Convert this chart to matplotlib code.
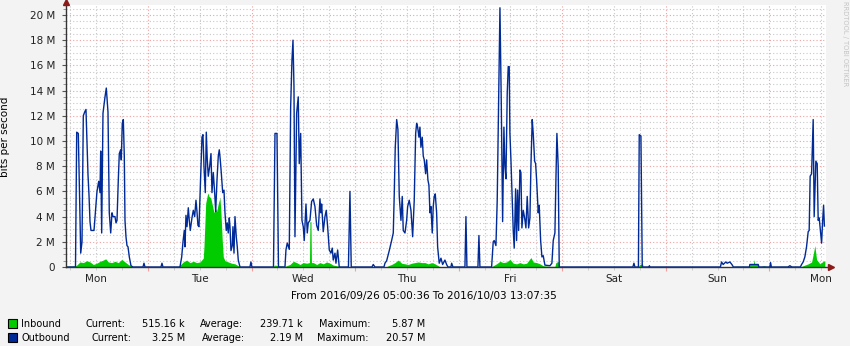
import numpy as np
import matplotlib
matplotlib.use("Agg")
import matplotlib.pyplot as plt
from matplotlib.patches import Rectangle

# hours after 2016/09/26 05:00:36, values in Mbit/s
out_hours = [0, 2.2, 2.48, 2.85, 3.41, 3.71, 4.01, 4.33, 4.63, 5.10, 5.33, 5.56, 5.79, 6.49, 6.95, 7.18,
             7.58, 7.88, 8.04, 8.27, 8.57, 9.04, 9.34, 9.73, 10.03, 10.36, 10.66, 10.89, 11.35, 11.59,
             11.82, 12.12, 12.35, 12.67, 12.81, 13.04, 13.28, 13.51, 13.67, 13.90, 14.13, 14.37, 14.67,
             15.06, 15.52, 17.84, 18.07, 18.30, 22.01, 22.24, 22.47,
             26.41, 26.81, 27.11, 27.41, 27.57, 27.80, 28.04, 28.34, 28.57, 28.80, 29.19, 29.50, 29.82,
             30.12, 30.35, 30.58, 30.82, 31.21, 31.51, 31.74, 31.97, 32.28, 32.51, 32.74, 32.97, 33.30,
             33.60, 33.83, 34.13, 34.45, 34.69, 34.99, 35.29, 35.52, 35.75, 35.98, 36.31, 36.61, 36.84,
             37.14, 37.37, 37.60, 37.84, 38.00, 38.23, 38.53, 38.69, 38.93, 39.16, 39.46, 39.69, 39.92,
             40.32, 42.63, 42.86, 43.09,
             48.08, 48.43, 48.89, 49.24, 50.74, 50.97, 51.27, 51.74, 52.06, 52.36, 52.60, 52.83, 53.06,
             53.45, 53.82, 54.05, 54.38, 54.68, 54.98, 55.21, 55.61, 55.91, 56.14, 56.53, 56.92, 57.30,
             57.69, 58.09, 58.46, 58.85, 59.08, 59.24, 59.61, 60.01, 60.31, 60.63, 61.01, 61.40, 61.70,
             61.93, 62.33, 62.56, 62.95, 63.32, 65.45, 65.80, 66.10, 70.90, 71.20, 71.59,
             73.68, 73.91, 74.31, 74.91, 75.46, 75.84, 76.07, 76.30, 76.63, 76.92, 77.23, 77.62, 77.92,
             78.15, 78.55, 78.94, 79.17, 79.54, 79.94, 80.33, 80.70, 81.03, 81.26, 81.49, 81.79, 82.02,
             82.25, 82.55, 82.79, 83.02, 83.34, 83.57, 83.87, 84.10, 84.34, 84.57, 84.87, 85.10, 85.33,
             85.57, 85.89, 86.12, 86.49, 86.89, 87.28, 87.81, 88.20, 88.51, 89.20, 89.37, 89.67,
             92.45, 92.68, 92.91, 95.46, 95.69, 95.92,
             98.63, 99.00, 99.23, 99.63, 99.93, 100.26, 100.56, 100.86, 101.18, 101.48, 101.71, 101.95,
             102.25, 102.48, 102.71, 102.87, 103.11, 103.41, 103.64, 103.87, 104.19, 104.42, 104.65,
             104.89, 105.19, 105.42, 105.65, 105.96, 106.28, 106.58, 106.88, 107.21, 107.51, 107.74,
             108.04, 108.27, 108.60, 108.83, 109.06, 109.43, 109.66, 109.99, 110.29, 110.59, 110.98,
             112.14, 112.60, 112.91, 113.30, 113.53, 113.76, 114.06, 114.30,
             131.37, 131.61, 131.84, 132.65, 132.84, 133.23, 133.54, 135.08, 135.20, 135.31,
             151.65, 151.92, 152.29, 152.91, 153.21, 153.85, 154.31, 154.66, 158.37, 158.48, 160.41,
             160.57, 163.12, 163.27, 163.46, 167.29, 167.75, 168.21,
             170.18, 170.46, 170.83, 171.22, 171.61, 171.99, 172.22, 172.45, 172.78, 173.15, 173.38,
             173.77, 174.08, 174.31, 174.54, 174.87, 175.10, 175.33, 175.56, 175.75]
out_mbits = [0, 0, 10.7, 10.6, 1.1, 2.0, 12.0, 12.3, 12.5, 7.3, 5.7, 3.6, 2.9, 2.9, 4.9, 6.0,
             6.8, 5.9, 9.2, 2.7, 12.2, 13.5, 14.2, 12.3, 4.3, 2.7, 4.3, 4.0, 4.0, 3.5,
             3.7, 6.9, 9.0, 9.3, 8.5, 11.4, 11.7, 8.8, 3.7, 2.4, 1.7, 1.6, 0.8,
             0.1, 0, 0, 0.3, 0, 0, 0.3, 0,
             0, 0.8, 2.0, 2.9, 1.6, 4.1, 3.2, 4.7, 3.7, 2.9, 3.9, 4.5, 4.0,
             5.3, 4.4, 3.3, 3.2, 7.2, 10.3, 10.5, 8.0, 5.9, 10.7, 8.5, 7.2, 8.0,
             9.0, 5.9, 7.5, 5.9, 4.4, 6.9, 8.8, 9.3, 8.5, 7.5, 5.9, 6.1, 4.3,
             2.9, 3.5, 2.7, 3.9, 3.2, 1.3, 1.7, 3.2, 1.1, 4.0, 2.4, 1.6, 0.55,
             0, 0, 0.4, 0,
             0, 10.6, 10.6, 0, 0, 1.35, 1.9, 1.4, 12.7, 16.4, 18.0, 14.3, 2.4,
             12.2, 13.5, 8.2, 10.6, 3.7, 3.2, 2.1, 5.0, 2.7, 3.5, 3.7, 5.2, 5.4,
             4.8, 3.3, 2.9, 5.4, 4.3, 5.0, 2.8, 4.0, 4.5, 3.2, 1.35, 1.1, 1.5,
             0.55, 1.1, 0.3, 1.35, 0, 0, 6.0, 0, 0, 0.2, 0,
             0, 0.3, 0.5, 1.3, 2.1, 2.7, 5.8, 9.5, 11.7, 10.9, 5.6, 3.7, 5.6,
             2.9, 2.7, 3.7, 4.8, 5.3, 4.5, 2.4, 5.3, 10.6, 11.4, 11.1, 10.3, 11.1,
             9.5, 10.3, 8.8, 8.5, 7.4, 8.5, 6.9, 6.5, 4.3, 4.8, 2.7, 4.8, 5.6,
             5.8, 4.3, 1.6, 0.3, 0.7, 0.2, 0.55, 0.2, 0, 0, 0.3, 0,
             0, 4.0, 0, 0, 2.5, 0,
             0, 2.0, 2.1, 1.7, 5.3, 13.3, 20.57, 13.3, 3.6, 11.1, 8.0, 7.0,
             13.8, 15.9, 15.9, 10.6, 8.5, 5.3, 2.9, 1.5, 6.2, 2.1, 6.1,
             2.9, 7.7, 7.5, 3.1, 4.5, 3.9, 3.1, 5.6, 3.1, 3.9, 8.0,
             11.7, 10.6, 8.4, 8.2, 6.9, 4.3, 4.9, 2.1, 0.8, 0.9, 0.15,
             0.1, 0.3, 2.1, 2.7, 6.9, 10.6, 8.0, 0,
             0, 0.3, 0, 0, 10.5, 10.4, 0, 0, 0.1, 0,
             0, 0.4, 0.2, 0.4, 0.3, 0.4, 0.2, 0, 0, 0.2, 0.2,
             0, 0, 0.35, 0, 0, 0.1, 0,
             0, 0.2, 0.4, 0.8, 1.6, 2.8, 2.9, 7.2, 7.4, 11.7, 4.0,
             8.4, 8.2, 3.7, 3.9, 2.7, 1.9, 3.6, 4.9, 3.25]

in_hours = [0, 2.09, 2.48, 3.24, 4.01, 4.80, 5.56, 6.33, 7.11, 7.88, 8.64, 9.20, 9.80, 10.59, 11.35,
            12.12, 12.91, 13.67, 14.43, 15.22, 15.76,
            25.95, 26.41, 27.18, 27.96, 28.73, 29.50, 30.28, 31.05, 31.81, 31.97, 32.37, 32.74, 32.97,
            33.13, 33.53, 33.99, 34.29, 34.59, 34.92, 35.29, 35.68, 35.91, 36.21, 36.45, 36.84, 37.60,
            38.39, 39.16, 39.92, 40.32,
            47.73, 48.43, 49.19, 50.74, 51.90, 52.67, 53.45, 54.22, 54.98, 55.77, 56.42, 56.53, 56.77,
            56.88, 57.30, 58.09, 58.85, 59.61, 60.40, 61.17, 61.93, 62.72, 63.49, 63.95,
            74.14, 74.68, 75.46, 76.23, 77.00, 77.78, 78.55, 79.31, 80.10, 80.86, 81.63, 82.42, 83.18,
            83.94, 84.73, 85.50, 86.26, 86.65,
            98.47, 99.00, 99.77, 100.56, 101.32, 102.10, 102.87, 103.64, 104.42, 105.19, 105.96,
            106.74, 107.74, 108.27, 109.06, 109.83, 110.59, 112.14, 113.30, 113.53, 114.06, 114.30,
            132.53, 132.98, 133.60, 133.79,
            154.54, 155.24, 156.17, 157.32, 158.37, 158.48, 159.29, 159.41, 159.60, 160.41, 160.57,
            161.73, 162.65, 163.12, 163.58, 165.43, 168.14,
            170.07, 170.83, 171.99, 172.78, 173.15, 173.54, 173.93, 174.70, 175.46, 175.86]
in_mbits = [0.05, 0.08, 0.15, 0.4, 0.35, 0.5, 0.4, 0.2, 0.3, 0.45, 0.55, 0.65, 0.4, 0.35, 0.45,
            0.35, 0.6, 0.4, 0.2, 0.05, 0,
            0, 0.15, 0.4, 0.55, 0.35, 0.45, 0.35, 0.4, 0.7, 1.6, 5.05, 5.7, 5.87,
            5.6, 5.5, 4.8, 4.3, 4.7, 4.4, 5.05, 5.5, 4.3, 2.1, 0.8, 0.5, 0.4,
            0.3, 0.25, 0.1, 0,
            0, 0.15, 0.1, 0.05, 0.2, 0.45, 0.35, 0.2, 0.35, 0.3, 0.35, 3.6, 3.6,
            0.35, 0.35, 0.2, 0.35, 0.25, 0.4, 0.3, 0.15, 0.1, 0.05, 0,
            0, 0.1, 0.2, 0.35, 0.55, 0.3, 0.25, 0.2, 0.3, 0.35, 0.4, 0.35, 0.35,
            0.25, 0.35, 0.25, 0.1, 0,
            0, 0.1, 0.25, 0.45, 0.35, 0.4, 0.6, 0.3, 0.25, 0.35, 0.25,
            0.3, 0.75, 0.4, 0.35, 0.25, 0.1, 0.05, 0.05, 0.35, 0.45, 0,
            0, 0.2, 0.25, 0,
            0, 0.05, 0.05, 0.05, 0, 0.2, 0.2, 0.6, 0.2, 0.2, 0,
            0.1, 0, 0.25, 0, 0.05, 0.05,
            0, 0.1, 0.25, 0.4, 1.0, 1.7, 0.6, 0.25, 0.45, 0.5]

day_names = ["Mon", "Tue", "Wed", "Thu", "Fri", "Sat", "Sun", "Mon"]
span_hours = 176.12
first_midnight = 18.99   # Tue 00:00
y_top = 20.79

legend_rows = [
    ("Inbound", "#00CC00", "515.16 k", "239.71 k", "5.87 M"),
    ("Outbound", "#002A97", "3.25 M", "2.19 M", "20.57 M"),
]

W, H = 850, 346
fig = plt.figure(figsize=(W / 100, H / 100), dpi=100, facecolor="#F3F3F3")
ax = fig.add_axes([66 / W, 79 / H, 760 / W, 262 / H])
ax.set_facecolor("white")

ax.fill_between(in_hours, in_mbits, 0, color="#00CC00", lw=0, zorder=3)
ax.plot(out_hours, out_mbits, color="#002A97", lw=1.0, zorder=4)

ax.set_xlim(0, span_hours)
ax.set_ylim(0, y_top)

# grid: red at days / every 2 M, grey at 6 h / 0.5 M
midnights = first_midnight + 24 * np.arange(7)
six_h = np.arange(first_midnight % 6, span_hours, 6)
six_h = [t for t in six_h if min(abs(t - m) for m in midnights) > 0.1]
noon0 = first_midnight - 12
six_labels = []
for t in six_h:
    k = (t - noon0) / 24
    if abs(k - round(k)) < 0.01:
        six_labels.append(day_names[int(round(k))])
    else:
        six_labels.append("")
ax.set_xticks(midnights)
ax.set_xticklabels([])
ax.set_xticks(six_h, labels=six_labels, minor=True)

ax.set_yticks(np.arange(0, 21, 2))
ax.set_yticklabels(["0"] + ["%d M" % v for v in range(2, 21, 2)])
ax.set_yticks(np.arange(0, y_top, 0.5), minor=True)

ax.grid(which="major", color="#F2A0A0", lw=0.8, ls=(0, (1, 2)), zorder=1)
ax.grid(which="minor", color="#C8C8C8", lw=0.8, ls=(0, (1, 2)), zorder=0)

ax.tick_params(axis="both", which="both", labelsize=7.5, colors="#222222")
ax.tick_params(axis="x", which="major", length=3, color="#F2A0A0", pad=2)
ax.tick_params(axis="x", which="minor", length=2, color="#C8C8C8", pad=3)
ax.tick_params(axis="y", which="major", length=3, color="#555555", pad=5)
ax.tick_params(axis="y", which="minor", length=2, color="#888888")

for s in ax.spines.values():
    s.set_visible(False)
ax.plot([0, 0], [0, 1.01], transform=ax.transAxes, color="#333333", lw=1, clip_on=False, zorder=5)
ax.plot([0, 1.006], [0, 0], transform=ax.transAxes, color="#333333", lw=1, clip_on=False, zorder=5)
ax.plot([0], [1.013], transform=ax.transAxes, marker="^", ms=4.5, color="#8B1A1A", clip_on=False, zorder=6)
ax.plot([1.007], [0], transform=ax.transAxes, marker=">", ms=4.5, color="#8B1A1A", clip_on=False, zorder=6)

def fx(x):
    return x / W

def fy(y):
    return 1 - y / H

fig.text(fx(5), fy(137), "bits per second", rotation=90, ha="center", va="center", fontsize=7.5)
fig.text(fx(424), fy(296), "From 2016/09/26 05:00:36 To 2016/10/03 13:07:35",
         ha="center", va="center", fontsize=7.5)
fig.text(fx(845), fy(1), "RRDTOOL / TOBI OETIKER", rotation=270, ha="center", va="top",
         fontsize=4.8, color="#C4C4C4")

row_y = [324, 338]
cur_x = [86, 92]
for (name, col, cur, avg, mx), y, cx in zip(legend_rows, row_y, cur_x):
    fig.patches.append(Rectangle((fx(8), fy(y + 4)), 9 / W, 9 / H, transform=fig.transFigure,
                                 facecolor=col, edgecolor="black", lw=0.8))
    fig.text(fx(21), fy(y), name, va="center", fontsize=7)
    fig.text(fx(cx), fy(y), "Current:", va="center", fontsize=7)
    fig.text(fx(185), fy(y), cur, va="center", ha="right", fontsize=7)
    fig.text(fx(200 + (y == 338) * 2), fy(y), "Average:", va="center", fontsize=7)
    fig.text(fx(303), fy(y), avg, va="center", ha="right", fontsize=7)
    fig.text(fx(319 - (y == 338) * 2), fy(y), "Maximum:", va="center", fontsize=7)
    fig.text(fx(425), fy(y), mx, va="center", ha="right", fontsize=7)

fig.savefig("out.png", dpi=100, facecolor=fig.get_facecolor())
